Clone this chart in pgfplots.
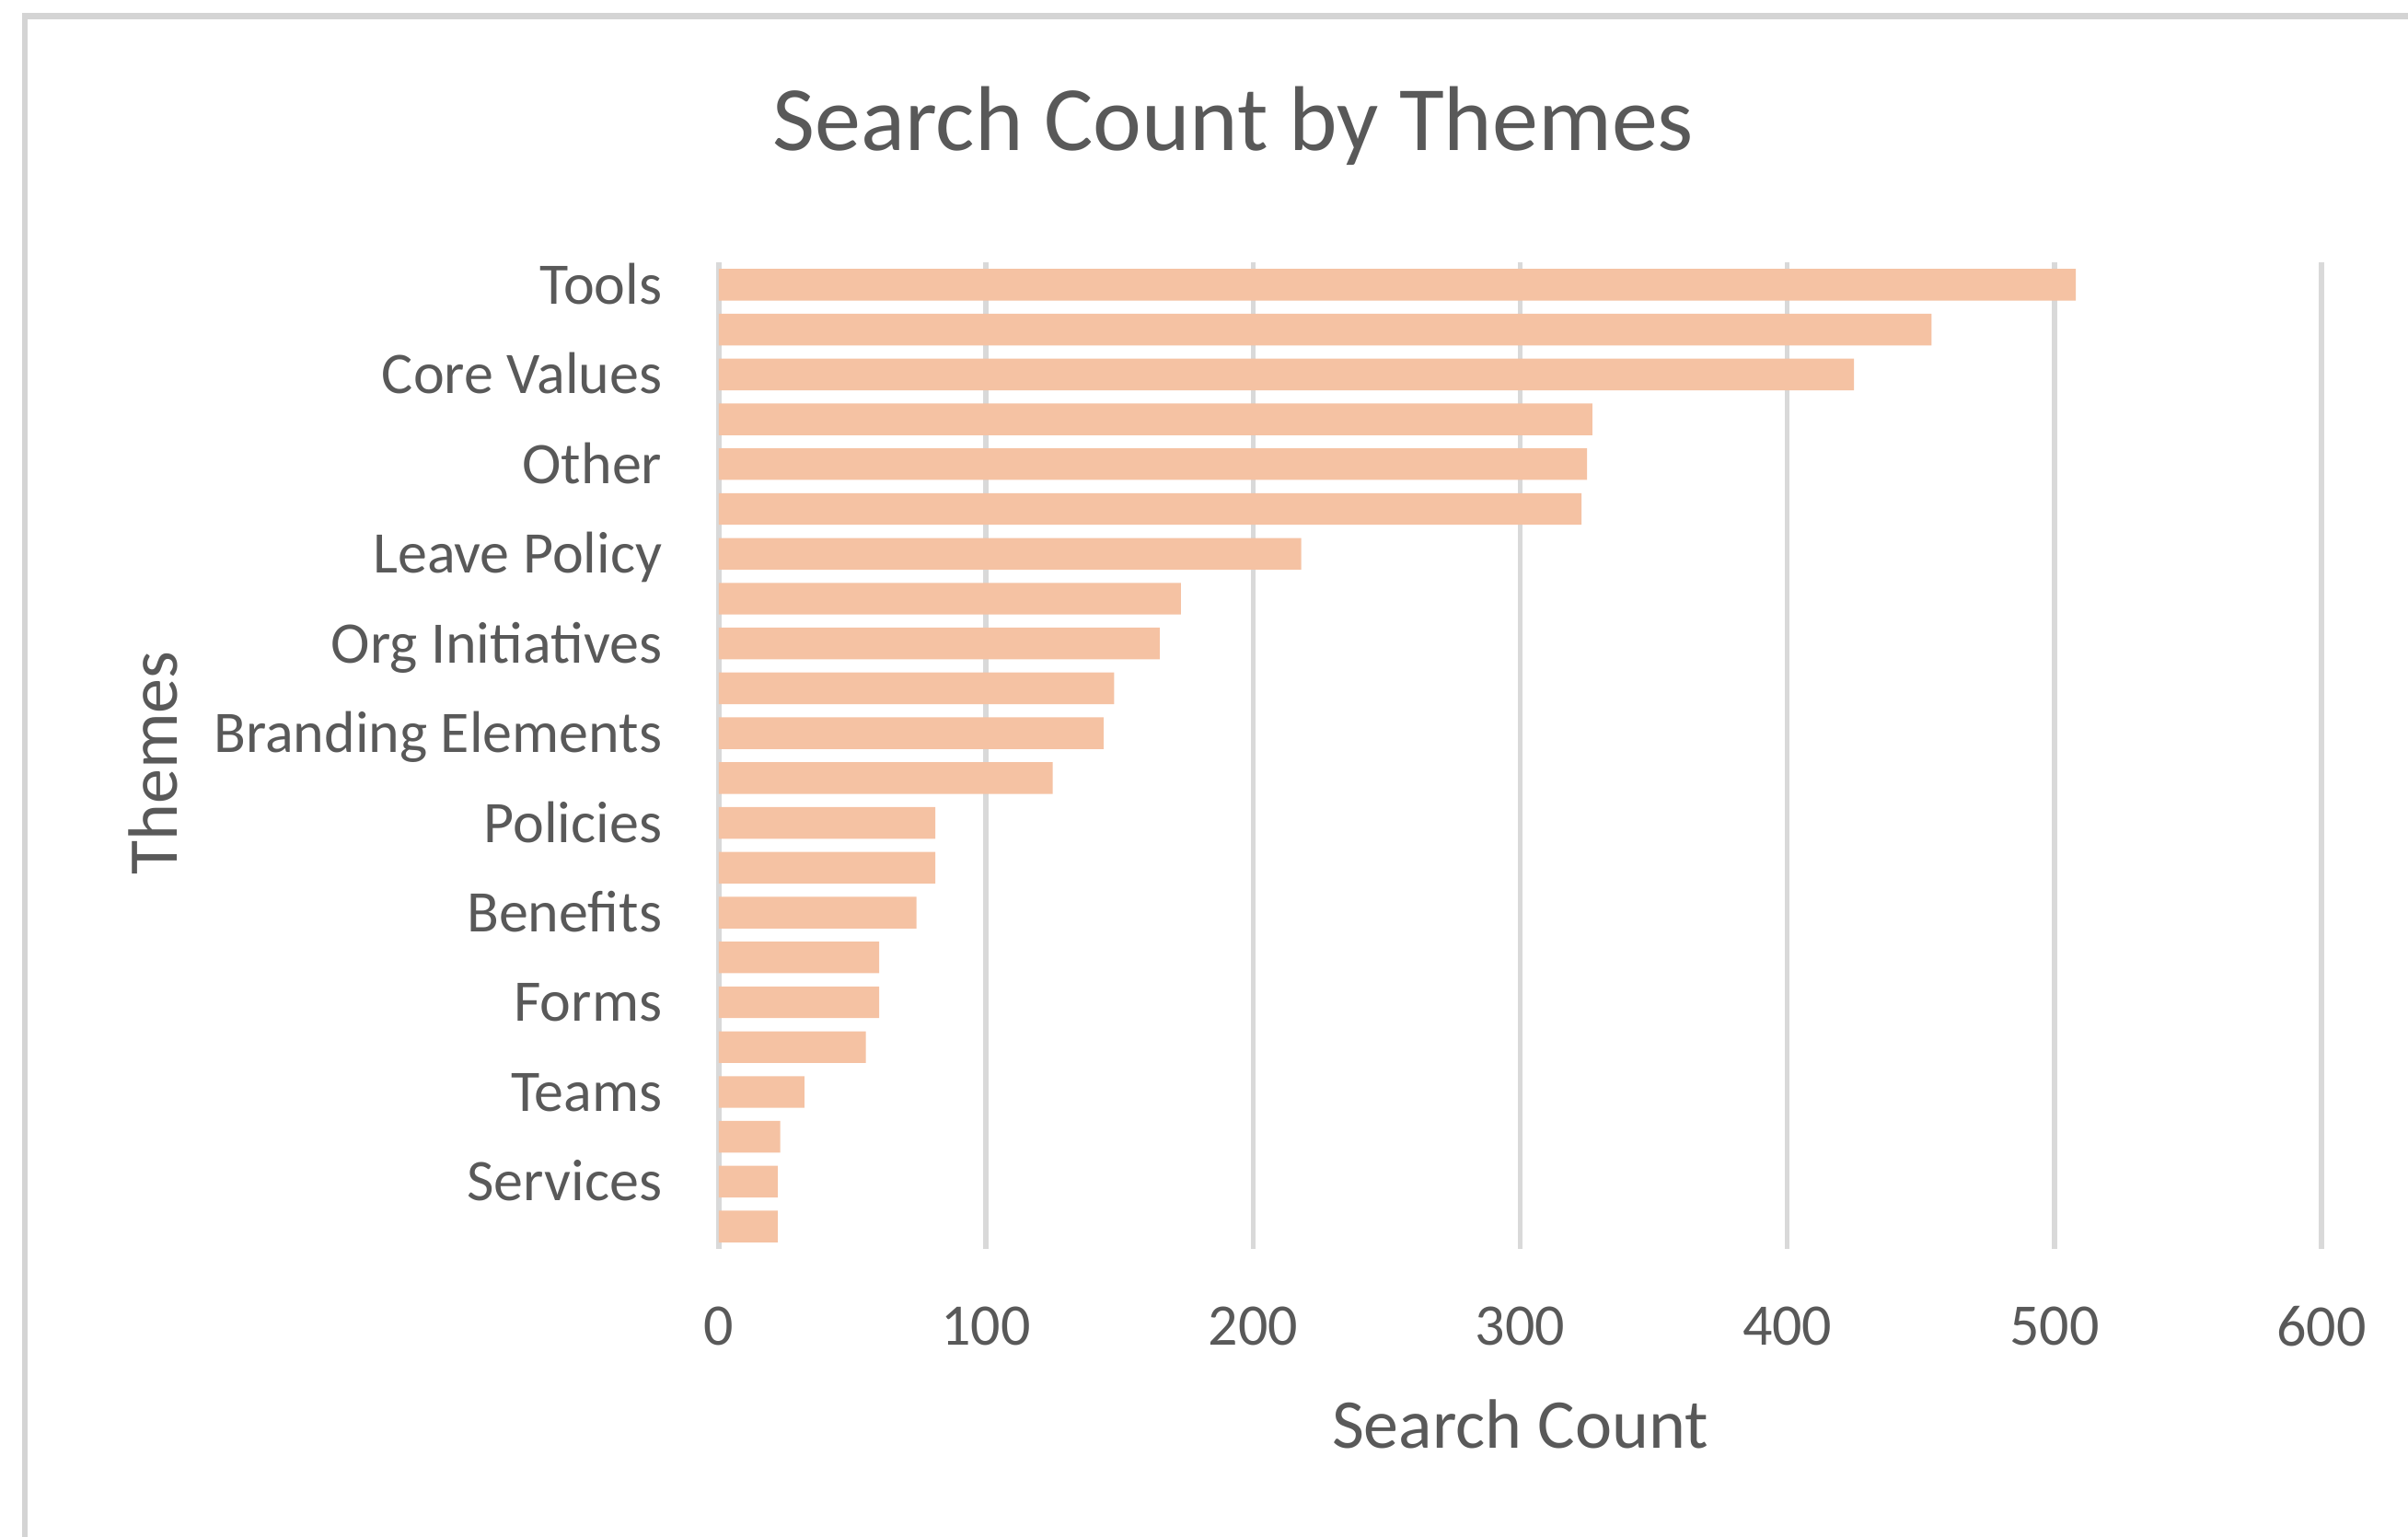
\documentclass[border=0pt]{standalone}
\usepackage{fontspec}
\setmainfont{Carlito}
\usepackage{pgfplots}
\pgfplotsset{compat=1.18}
\definecolor{barc}{HTML}{F5C2A3}
\definecolor{gridc}{HTML}{D9D9D9}
\definecolor{txt}{HTML}{595959}
\definecolor{framec}{HTML}{D4D4D4}
\begin{document}
\begin{tikzpicture}
\path[use as bounding box] (-195.25bp,-78.25bp) rectangle (458.75bp,339.25bp);
\begin{axis}[
  at={(0,0)}, anchor=south west,
  scale only axis, width=435.25bp, height=268bp,
  xbar, bar width=8.6bp,
  xmin=0, xmax=600, ymin=0.5, ymax=22.5, y dir=reverse,
  xtick={0,100,...,600},
  ytick={1,3,...,21},
  yticklabels={Tools,Core Values,Other,Leave Policy,Org Initiatives,Branding Elements,Policies,Benefits,Forms,Teams,Services},
  xmajorgrids, major grid style={draw=gridc, line width=1.4bp},
  axis line style={draw=none},
  major tick length=0pt,
  tick style={draw=none},
  /pgf/number format/assume math mode=true,
  ticklabel style={font=\fontsize{16bp}{19bp}\selectfont, text=txt},
  xticklabel style={anchor=center, yshift=-21bp, inner sep=0pt},
  yticklabel style={anchor=east, inner sep=0pt, xshift=-15.25bp, yshift=-2bp, text height=0.65em, text depth=0pt},
  title={Search Count by Themes},
  title style={font=\fontsize{25bp}{30bp}\selectfont, text=txt, anchor=center, at={(axis description cs:0.321,1.116)}},
  xlabel={Search Count},
  xlabel style={font=\fontsize{19bp}{23bp}\selectfont, text=txt, anchor=center, at={(axis description cs:0.5,-0.178)}},
  ylabel={Themes},
  ylabel style={font=\fontsize{19bp}{23bp}\selectfont, text=txt, anchor=center, at={(axis description cs:-0.3532,0.4925)}},
]
\addplot[fill=barc, draw=none] coordinates {
(508,1) (454,2) (425,3) (327,4) (325,5) (323,6) (218,7) (173,8) (165,9) (148,10) (144,11)
(125,12) (81,13) (81,14) (74,15) (60,16) (60,17) (55,18) (32,19) (23,20) (22,21) (22,22)};
\end{axis}
\draw[framec, line width=1.6bp] (-188.5bp,-100bp) -- (-188.5bp,334.9bp) -- (480bp,334.9bp);
\end{tikzpicture}
\end{document}
